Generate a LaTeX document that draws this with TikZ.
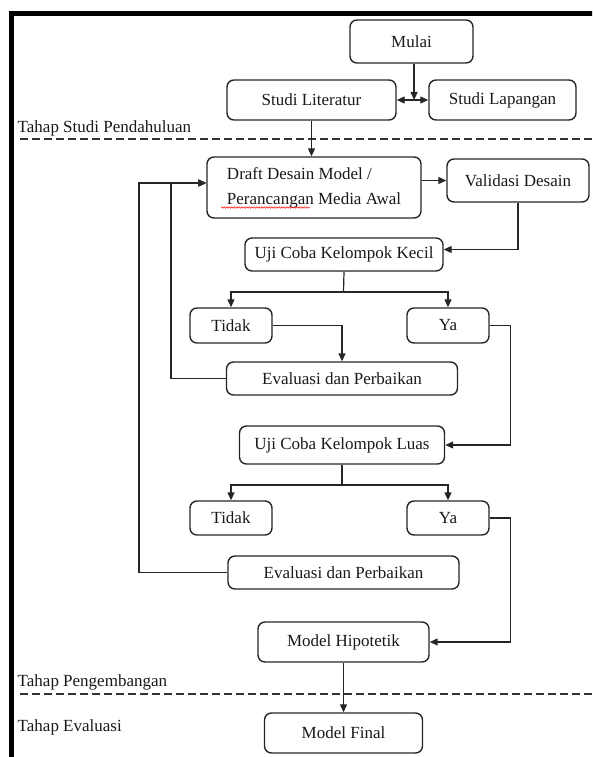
\documentclass[tikz,border=0pt]{standalone}
\usepackage{fontspec}
\setmainfont{Liberation Serif}
\newfontfamily\boxfont{Liberation Serif}
\usetikzlibrary{arrows.meta,calc,decorations.pathmorphing}

\begin{document}
\begin{tikzpicture}[x = 1pt, y = -1pt, >={Triangle[length=8pt,width=7pt]}]
	\tikzstyle{every node} = [draw = black!85, rounded corners = 7pt, line width = 1.4pt, inner sep = 0pt, font = \boxfont\fontsize{17}{25}\selectfont, text = black!90]
	\tikzstyle{link} = [draw = black!85, line width = 1.2pt]
\useasboundingbox (0,0) rectangle (592,757);
\clip (0,0) rectangle (592,757);
\draw[line width = 5pt] (11.5,800) -- (11.5,13.5) -- (620,13.5);
\node[minimum width = 123, minimum height = 43] (0) at (411.5, 41.5) {Mulai};
\node[minimum width = 169, minimum height = 40] (1) at (311.5, 100) {Studi Literatur};
\node[minimum width = 147, minimum height = 40] (2) at (502.5, 100) {Studi Lapangan};
\node[minimum width = 214, minimum height = 61, align = left] (3) at (314, 187.5) {Draft Desain Model /\\Perancangan Media Awal};
\node[minimum width = 142, minimum height = 43] (4) at (518, 180.5) {Validasi Desain};
\node[minimum width = 198, minimum height = 33] (5) at (344, 254.5) {Uji Coba Kelompok Kecil};
\node[minimum width = 82, minimum height = 35] (6) at (231, 325.5) {Tidak};
\node[minimum width = 82, minimum height = 35] (7) at (448, 325.5) {Ya};
\node[minimum width = 231, minimum height = 33] (8) at (342, 378.5) {Evaluasi dan Perbaikan};
\node[minimum width = 205, minimum height = 38] (9) at (342, 445) {Uji Coba Kelompok Luas};
\node[minimum width = 82, minimum height = 34] (10) at (231, 518) {Tidak};
\node[minimum width = 82, minimum height = 34] (11) at (448, 518) {Ya};
\node[minimum width = 231, minimum height = 33] (12) at (343.5, 572.5) {Evaluasi dan Perbaikan};
\node[minimum width = 171, minimum height = 40] (13) at (343.5, 642) {Model Hipotetik};
\node[minimum width = 158, minimum height = 40] (14) at (343.5, 733) {Model Final};
	\node[draw = none, anchor = west] (p1) at (17, 128) {Tahap Studi Pendahuluan};
	\node[draw = none, anchor = west] (p2) at (17, 682) {Tahap Pengembangan};
	\node[draw = none, anchor = west] (p3) at (17, 727) {Tahap Evaluasi};
\draw[line width = 1.2pt, dash pattern = on 8pt off 4pt, black!80] (20, 139) -- (600, 139);
\draw[line width = 1.2pt, dash pattern = on 8pt off 4pt, black!80] (20, 694) -- (600, 694);
\draw[red, line width = 0.5pt, decorate, decoration = {snake, amplitude = 0.7pt, segment length = 2.5pt}] (221, 207.5) -- (310, 207.5);
\coordinate (m) at ($(1.east)!0.55!(2.west)$);
\coordinate (s1) at (343.5, 292);
\coordinate (s2) at (342, 485);
\coordinate (l1) at (171, 183);
\coordinate (l2) at (139, 183);
	\path[link, ->] (0.south -| m) -- (m);
	\path[link, <->] (1.east) -- (2.west);
	\path[link, ->] (1.south) -- (1.south |- 3.north);
	\path[link, ->] (3.east |- 4.west) -- (4.west);
	\path[link, ->] (4.south) |- ($(5.east)+(0,-5)$);
	\path[link] (5.south) -- (s1);
	\path[link, ->] (s1) -| (6.north);
	\path[link, ->] (s1) -| (7.north);
	\path[link, ->] (6.east) -| (8.north);
	\path[link, ->] (8.west) -| (l1) -- (l1 -| 3.west);
	\path[link, ->] (7.east) -- ++(21,0) |- (9.east);
	\path[link] (9.south) -- (s2);
	\path[link, ->] (s2) -| (10.north);
	\path[link, ->] (s2) -| (11.north);
	\path[link, ->] (12.west) -| (l2) -- (l2 -| 3.west);
	\path[link, ->] (11.east) -- ++(21,0) |- (13.east);
	\path[link, ->] (13.south) -- (14.north);
\end{tikzpicture}
\end{document}
